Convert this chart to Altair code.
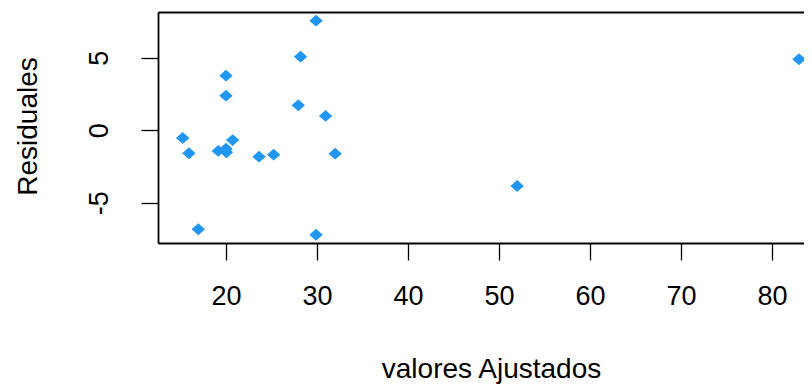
import altair as alt
import pandas as pd

# Values
fitted = [29.9, 28.2, 20.0, 20.0, 27.95, 30.95, 15.24, 20.73, 15.93, 19.15,
          20.0, 20.05, 23.63, 25.24, 32.0, 16.96, 29.9, 52.0, 82.97]
resid = [7.55, 5.07, 3.76, 2.38, 1.72, 0.98, -0.54, -0.68, -1.59, -1.43,
         -1.28, -1.52, -1.83, -1.69, -1.62, -6.83, -7.21, -3.85, 4.89]
x_ticks = [20, 30, 40, 50, 60, 70, 80]
y_ticks = [-5, 0, 5]
x_title = "valores Ajustados"
y_title = "Residuales"

df = pd.DataFrame({"fitted": fitted, "resid": resid})

FONT = "Liberation Sans"
COLOR = "#2196F3"
DIAMOND = "M0,-0.88L1,0L0,0.88L-1,0Z"

xscale = alt.Scale(domain=[12.53, 83.52], nice=False, zero=False)
yscale = alt.Scale(domain=[-7.78, 8.15], nice=False, zero=False)

x_axis = alt.Axis(
    values=x_ticks, title=x_title, grid=False, tickSize=17, tickWidth=1.3,
    domainWidth=1.8, labelFontSize=27, titleFontSize=28,
    labelBaseline="alphabetic", labelPadding=44, labelFlush=False,
    titleBaseline="alphabetic", titleY=134, titleX=333,
    labelExpr="toString(datum.value)",
)
y_axis = alt.Axis(
    values=y_ticks, title=y_title, grid=False, tickSize=17, tickWidth=1.3,
    domainWidth=1.8, labelFontSize=27, titleFontSize=28,
    labelAngle=270, labelAlign="center", labelBaseline="alphabetic",
    labelPadding=34, labelFlush=False,
    titleBaseline="alphabetic", titleX=-122, titleY=114, titleAngle=270,
    labelExpr="toString(datum.value)",
)

base = alt.Chart(df)

points = base.mark_point(
    shape=DIAMOND, filled=True, size=180, color=COLOR, opacity=1, strokeWidth=0
).encode(
    x=alt.X("fitted:Q", scale=xscale, axis=x_axis),
    y=alt.Y("resid:Q", scale=yscale, axis=y_axis),
)

top = base.mark_point(opacity=0).encode(
    x=alt.X("fitted:Q", scale=xscale,
            axis=alt.Axis(orient="top", labels=False, ticks=False, title=None,
                          grid=False, domainWidth=1.8)),
    y=alt.Y("resid:Q", scale=yscale, axis=None),
)

chart = alt.layer(points, top).resolve_axis(
    x="independent", y="independent"
).properties(
    width=646, height=231,
    autosize=alt.AutoSizeParams(type="none"),
    padding={"left": 150, "top": 4, "right": 0, "bottom": 142},
    background="white",
).configure_view(stroke=None).configure_axis(
    labelFont=FONT, titleFont=FONT, labelColor="black", titleColor="black",
    titleFontWeight="normal", domainColor="black", tickColor="black",
)

chart.save("out.html", embed_options={"renderer": "svg", "actions": False})
